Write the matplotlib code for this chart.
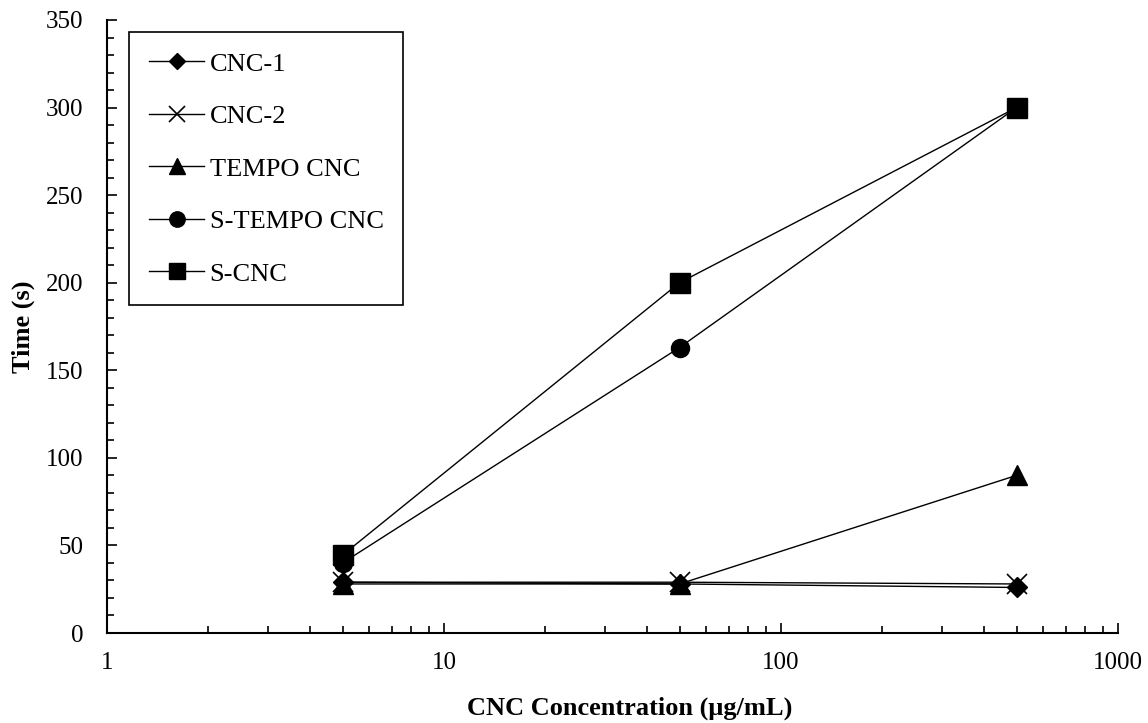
import matplotlib
matplotlib.use("Agg")
from matplotlib import pyplot as plt
from matplotlib.ticker import FixedLocator, NullFormatter, MultipleLocator

plt.rcParams['font.family'] = ['Liberation Serif', 'DejaVu Serif']

conc = [5, 50, 500]
cnc1 = [29, 28, 26]
cnc2 = [29, 29, 28]
tempo_cnc = [28, 28, 90]
s_tempo_cnc = [40, 163, 300]
s_cnc = [44.5, 200, 300]

fig = plt.figure(figsize=(11.48, 7.23), dpi=100)
ax = fig.add_axes([107/1148, 90/723, (1118-107)/1148, (633-20)/723])

kw = dict(color='black', lw=1, markerfacecolor='black', markeredgecolor='black')
ax.plot(conc, cnc1, marker='D', ms=10, label='CNC-1', **kw)
ax.plot(conc, cnc2, marker='x', ms=14, mew=1.2, label='CNC-2', **kw)
ax.plot(conc, tempo_cnc, marker='^', ms=14, label='TEMPO CNC', **kw)
ax.plot(conc, s_tempo_cnc, marker='o', ms=13, label='S-TEMPO CNC', **kw)
ax.plot(conc, s_cnc, marker='s', ms=14, label='S-CNC', **kw)

ax.set_xscale('log')
ax.set_xlim(1, 1000)
ax.set_ylim(0, 350)
ax.yaxis.set_major_locator(MultipleLocator(50))
ax.yaxis.set_minor_locator(MultipleLocator(10))
ax.xaxis.set_major_locator(FixedLocator([1, 10, 100, 1000]))
ax.set_xticklabels(['1', '10', '100', '1000'])
ax.xaxis.set_minor_formatter(NullFormatter())

for s in ['top', 'right']:
    ax.spines[s].set_visible(False)
for s in ['left', 'bottom']:
    ax.spines[s].set_linewidth(1.5)

ax.tick_params(which='both', direction='in', labelsize=18, width=1.2)
ax.tick_params(which='major', length=7)
ax.tick_params(which='minor', length=5)
ax.tick_params(axis='x', which='major', pad=14)
ax.tick_params(axis='y', which='major', pad=17)

ax.set_xlabel('CNC Concentration (μg/mL)', fontsize=19, fontweight='bold')
ax.xaxis.set_label_coords(0.517, -0.104)
ax.set_ylabel('Time (s)', fontsize=19, fontweight='bold', labelpad=8)

leg = ax.legend(loc='upper left', bbox_to_anchor=(0.0218, 0.98), fontsize=19,
                handlelength=2.1, labelspacing=1.1, borderpad=0.75, borderaxespad=0,
                handletextpad=0.2, fancybox=False, framealpha=1, markerscale=0.85)
leg.get_frame().set_edgecolor('black')
leg.get_frame().set_linewidth(1.2)

plt.savefig('out.png', dpi=100)
